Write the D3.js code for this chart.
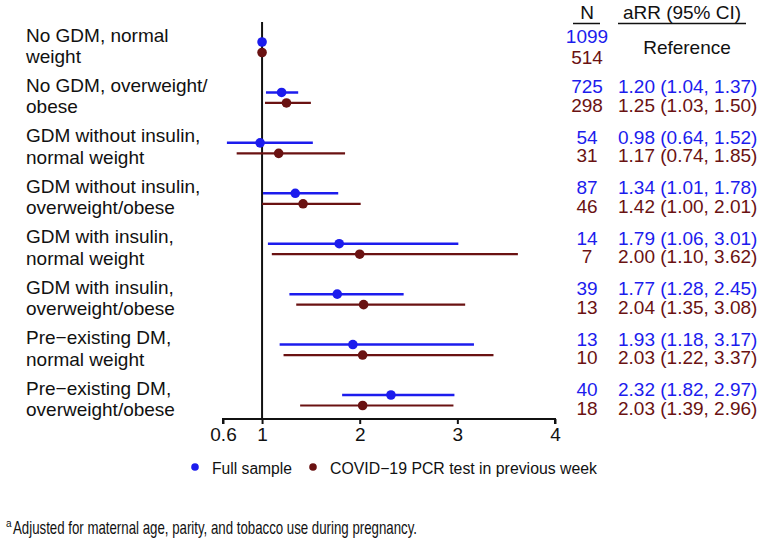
<!DOCTYPE html>
<html>
<head>
<meta charset="utf-8">
<script src="https://cdn.jsdelivr.net/npm/d3@7"></script>
<style>
  html, body { margin: 0; padding: 0; background: #fff; }
  svg { display: block; }
  text { font-family: "Liberation Sans", Arial, sans-serif; }
</style>
</head>
<body>
<div id="chart"></div>
<script>
// ---------- data ----------
const categories = [
  ["No GDM, normal", "weight"],
  ["No GDM, overweight/", "obese"],
  ["GDM without insulin,", "normal weight"],
  ["GDM without insulin,", "overweight/obese"],
  ["GDM with insulin,", "normal weight"],
  ["GDM with insulin,", "overweight/obese"],
  ["Pre\u2212existing DM,", "normal weight"],
  ["Pre\u2212existing DM,", "overweight/obese"]
];
const fullN   = [1099, 725, 54, 87, 14, 39, 13, 40];
const fullEst = [1.00, 1.20, 0.98, 1.34, 1.79, 1.77, 1.93, 2.32];
const fullLo  = [null, 1.04, 0.64, 1.01, 1.06, 1.28, 1.18, 1.82];
const fullHi  = [null, 1.37, 1.52, 1.78, 3.01, 2.45, 3.17, 2.97];
const pcrN    = [514, 298, 31, 46, 7, 13, 10, 18];
const pcrEst  = [1.00, 1.25, 1.17, 1.42, 2.00, 2.04, 2.03, 2.03];
const pcrLo   = [null, 1.03, 0.74, 1.00, 1.10, 1.35, 1.22, 1.39];
const pcrHi   = [null, 1.50, 1.85, 2.01, 3.62, 3.08, 3.37, 2.96];
const xTicks  = [0.6, 1, 2, 3, 4];
const xTickLabels = ["0.6", "1", "2", "3", "4"];
const seriesNames = ["Full sample", "COVID\u221219 PCR test in previous week"];
const footnote = "Adjusted for maternal age, parity, and tobacco use during pregnancy.";

// ---------- styles ----------
const BLUE = "#1c1ced";
const BROWN = "#6a1212";
const W = 763, H = 538;

const svg = d3.select("#chart").append("svg").attr("width", W).attr("height", H);

const x = d3.scaleLinear().domain([0.6, 4]).range([223, 555]);
const y = d3.scalePoint().domain(d3.range(categories.length)).range([47, 400]);
const axisY = 419;

// reference line at 1
svg.append("line")
  .attr("x1", x(1)).attr("x2", x(1))
  .attr("y1", 22).attr("y2", axisY)
  .attr("stroke", "#111").attr("stroke-width", 2);

// x axis
const axis = d3.axisBottom(x).tickValues(xTicks)
  .tickFormat((d, i) => xTickLabels[i]).tickSizeInner(5).tickSizeOuter(0).tickPadding(4);
const gAxis = svg.append("g").attr("transform", `translate(0,${axisY})`).call(axis);
gAxis.select(".domain").attr("stroke", "#111").attr("stroke-width", 2)
  .attr("d", `M${x(0.6)},5V0H${x(4)}V5`);
gAxis.selectAll(".tick line").attr("stroke", "#111").attr("stroke-width", 2);
gAxis.selectAll(".tick text").attr("font-size", 19).attr("fill", "#111")
  .attr("font-family", "'Liberation Sans', Arial, sans-serif");

// series
const series = [
  { est: fullEst, lo: fullLo, hi: fullHi, n: fullN, color: BLUE, dy: -5, sw: 2.5 },
  { est: pcrEst, lo: pcrLo, hi: pcrHi, n: pcrN, color: BROWN, dy: 5.5, sw: 2.2 }
];
series.forEach(s => {
  const g = svg.append("g");
  const idx = d3.range(categories.length);
  g.selectAll("line.ci").data(idx.filter(i => s.lo[i] != null)).join("line")
    .attr("class", "ci")
    .attr("x1", i => x(s.lo[i])).attr("x2", i => x(s.hi[i]))
    .attr("y1", i => y(i) + s.dy).attr("y2", i => y(i) + s.dy)
    .attr("stroke", s.color).attr("stroke-width", s.sw);
  g.selectAll("circle").data(idx).join("circle")
    .attr("cx", i => x(s.est[i])).attr("cy", i => y(i) + s.dy)
    .attr("r", 4.8).attr("fill", s.color);
});

// left labels
const gLab = svg.append("g");
categories.forEach((c, i) => {
  const t = gLab.append("text").attr("x", 26).attr("font-size", 19).attr("fill", "#111");
  t.append("tspan").attr("x", 26).attr("y", y(i) - 5.5).text(c[0]);
  t.append("tspan").attr("x", 26).attr("y", y(i) + 16).text(c[1]);
});

// header
const nX = 587, ciX = 618;
svg.append("text").attr("x", nX).attr("y", 19).attr("text-anchor", "middle")
  .attr("font-size", 19).attr("fill", "#111").text("N");
svg.append("line").attr("x1", 573).attr("x2", 600).attr("y1", 23.5).attr("y2", 23.5)
  .attr("stroke", "#111").attr("stroke-width", 1.5);
svg.append("text").attr("x", 682).attr("y", 19).attr("text-anchor", "middle")
  .attr("font-size", 19).attr("fill", "#111").text("aRR (95% CI)");
svg.append("line").attr("x1", 618).attr("x2", 746).attr("y1", 23.5).attr("y2", 23.5)
  .attr("stroke", "#111").attr("stroke-width", 1.5);

// right columns (N and estimate text stacked per row)
const fmt = v => v.toFixed(2);
categories.forEach((c, i) => {
  const nText = svg.append("text").attr("x", nX).attr("text-anchor", "middle").attr("font-size", 19);
  const ciText = svg.append("text").attr("x", ciX).attr("font-size", 19);
  series.forEach((s, si) => {
    const by = si === 0 ? y(i) - 4 : y(i) + (i === 0 ? 17 : 14.5);
    nText.append("tspan").attr("x", nX).attr("y", by).attr("fill", s.color).text(s.n[i]);
    if (s.lo[i] != null) {
      ciText.append("tspan").attr("x", ciX).attr("y", by).attr("fill", s.color)
        .text(`${fmt(s.est[i])} (${fmt(s.lo[i])}, ${fmt(s.hi[i])})`);
    }
  });
});
svg.append("text").attr("x", 687).attr("y", 54).attr("text-anchor", "middle")
  .attr("font-size", 19).attr("fill", "#111").text("Reference");

// legend
const legX = [195, 313];
const legLen = [80, 267];
series.forEach((s, si) => {
  svg.append("circle").attr("cx", legX[si]).attr("cy", 467).attr("r", 3.8).attr("fill", s.color);
  svg.append("text").attr("x", legX[si] + 17).attr("y", 473.5)
    .attr("font-size", 15.8).attr("fill", "#111")
    .attr("textLength", legLen[si]).attr("lengthAdjust", "spacingAndGlyphs")
    .text(seriesNames[si]);
});

// footnote
svg.append("text").attr("x", 6).attr("y", 527).attr("font-size", 10).attr("fill", "#111").text("a");
svg.append("text").attr("x", 13).attr("y", 534).attr("font-size", 18.5).attr("fill", "#111")
  .attr("textLength", 404).attr("lengthAdjust", "spacingAndGlyphs").text(footnote);
</script>
</body>
</html>
